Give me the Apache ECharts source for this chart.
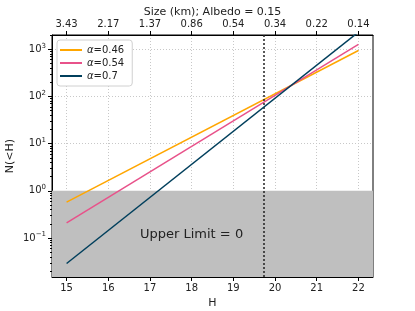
<!DOCTYPE html>
<html><head><meta charset="utf-8">
<script src="https://cdn.jsdelivr.net/npm/echarts@6/dist/echarts.min.js"></script>
<style>html,body{margin:0;padding:0;background:#fff}#c{width:415px;height:311px}</style>
</head><body><div id="c"></div>
<script>
// ---- data ----
const H_VALUES = [15, 22];
const N_ALPHA_046 = [0.58, 940];
const N_ALPHA_054 = [0.21, 1260];
const N_ALPHA_070 = [0.029, 2300];
const SERIES_NAMES = ['α=0.46', 'α=0.54', 'α=0.7'];
const X_TICKS = [15, 16, 17, 18, 19, 20, 21, 22];
const SIZE_LABELS = ['3.43', '2.17', '1.37', '0.86', '0.54', '0.34', '0.22', '0.14'];
const Y_MAJOR = [0.1, 1, 10, 100, 1000];
const Y_MINOR = [0.02, 0.03, 0.04, 0.05, 0.06, 0.07, 0.08, 0.09,
  0.2, 0.3, 0.4, 0.5, 0.6, 0.7, 0.8, 0.9,
  2, 3, 4, 5, 6, 7, 8, 9,
  20, 30, 40, 50, 60, 70, 80, 90,
  200, 300, 400, 500, 600, 700, 800, 900, 2000];
const LIMIT_H = 19.74;
const UPPER_LIMIT_N = 1;
const SHADE_TEXT = 'Upper Limit = 0';

const FONT = 'DejaVu Sans';
const COLORS = ['#ffa600', '#e8528a', '#003f5c'];
const Y_MIN = 0.015, Y_MAX = 2000, X_MIN = 14.65, X_MAX = 22.35;

function pairs(xs, ys) { return xs.map((x, i) => [x, ys[i]]); }
function supLabel(v) {
  const e = Math.round(Math.log10(v));
  return '10{s|' + (e < 0 ? '\u2212' + (-e) : e) + '}';
}

const chart = echarts.init(document.getElementById('c'), null, {renderer: 'canvas'});
chart.setOption({
  animation: false,
  textStyle: {fontFamily: FONT},
  grid: {left: 52, right: 42, top: 35, bottom: 34, show: true, borderColor: '#000', borderWidth: 1,
    backgroundColor: 'transparent', containLabel: false, outerBoundsMode: 'none'},
  legend: {
    orient: 'vertical', left: 57, top: 40,
    data: SERIES_NAMES,
    icon: 'rect',
    itemWidth: 22, itemHeight: 2, itemGap: 3,
    padding: [5, 8, 5, 3],
    backgroundColor: '#fff', borderColor: '#d0d0d0', borderWidth: 1, borderRadius: 3,
    formatter: n => '{i|α}' + n.slice(1),
    textStyle: {fontFamily: FONT, fontSize: 10, color: '#222', rich: {i: {fontStyle: 'italic', fontFamily: FONT, fontSize: 10}}}
  },
  xAxis: [{
    type: 'value', min: X_MIN, max: X_MAX, position: 'bottom',
    name: 'H', nameLocation: 'middle', nameGap: 21, nameMoveOverlap: false,
    nameTextStyle: {fontFamily: FONT, fontSize: 11, color: '#222'},
    axisLine: {show: true, lineStyle: {color: '#000'}},
    axisTick: {show: true, customValues: X_TICKS, length: 4, lineStyle: {color: '#000'}},
    axisLabel: {customValues: X_TICKS, fontSize: 10, color: '#222', margin: 6, fontFamily: FONT},
    splitLine: {show: true, lineStyle: {type: [1, 2], color: '#c8c8c8'}}
  }, {
    type: 'value', min: X_MIN, max: X_MAX, position: 'top',
    name: 'Size (km); Albedo = 0.15', nameLocation: 'middle', nameGap: 17, nameMoveOverlap: false,
    nameTextStyle: {fontFamily: FONT, fontSize: 11, color: '#222'},
    axisLine: {show: true, lineStyle: {color: '#000'}},
    axisTick: {show: true, customValues: X_TICKS, length: 4, lineStyle: {color: '#000'}},
    axisLabel: {customValues: X_TICKS, fontSize: 10, color: '#222', margin: 6, fontFamily: FONT,
      formatter: v => SIZE_LABELS[X_TICKS.indexOf(Math.round(v))]},
    splitLine: {show: false}
  }],
  yAxis: [{
    type: 'log', logBase: 10, min: Y_MIN, max: Y_MAX,
    name: 'N(<H)', nameLocation: 'middle', nameGap: 36, nameRotate: 90, nameMoveOverlap: false,
    nameTextStyle: {fontFamily: FONT, fontSize: 11, color: '#222'},
    axisLine: {show: true, lineStyle: {color: '#000'}},
    axisTick: {show: true, customValues: Y_MAJOR, length: 4, lineStyle: {color: '#000'}},
    axisLabel: {customValues: Y_MAJOR, fontSize: 10, color: '#222', margin: 6, fontFamily: FONT,
      formatter: supLabel,
      rich: {s: {fontSize: 7, fontFamily: FONT, color: '#222', verticalAlign: 'bottom', padding: [0, 0, 7, 0]}}},
    splitLine: {show: true, lineStyle: {type: [1, 2], color: '#c8c8c8'}}
  }, {
    type: 'log', logBase: 10, min: Y_MIN, max: Y_MAX, position: 'left',
    axisLine: {show: false},
    axisTick: {show: true, customValues: Y_MINOR, length: 2, lineStyle: {color: '#000'}},
    axisLabel: {show: false},
    splitLine: {show: false}
  }],
  series: [{
    name: SERIES_NAMES[0], type: 'line', data: pairs(H_VALUES, N_ALPHA_046),
    symbol: 'none', lineStyle: {width: 1.5, color: COLORS[0]}, itemStyle: {color: COLORS[0]},
    z: 3,
    markArea: {
      silent: true,
      itemStyle: {color: '#bfbfbf'},
      label: {show: true, position: [88, 44], align: 'left', verticalAlign: 'middle',
        fontSize: 13, color: '#222', fontFamily: FONT},
      data: [[{yAxis: Y_MIN, name: SHADE_TEXT}, {yAxis: UPPER_LIMIT_N}]]
    }
  }, {
    name: SERIES_NAMES[1], type: 'line', data: pairs(H_VALUES, N_ALPHA_054),
    symbol: 'none', lineStyle: {width: 1.5, color: COLORS[1]}, itemStyle: {color: COLORS[1]}, z: 4,
    markLine: {
      silent: true, symbol: 'none', label: {show: false},
      lineStyle: {type: [2, 2], color: '#222', width: 1.5},
      data: [{xAxis: LIMIT_H}]
    }
  }, {
    name: SERIES_NAMES[2], type: 'line', data: pairs(H_VALUES, N_ALPHA_070),
    symbol: 'none', lineStyle: {width: 1.5, color: COLORS[2]}, itemStyle: {color: COLORS[2]}, z: 5
  }]
});
</script></body></html>
